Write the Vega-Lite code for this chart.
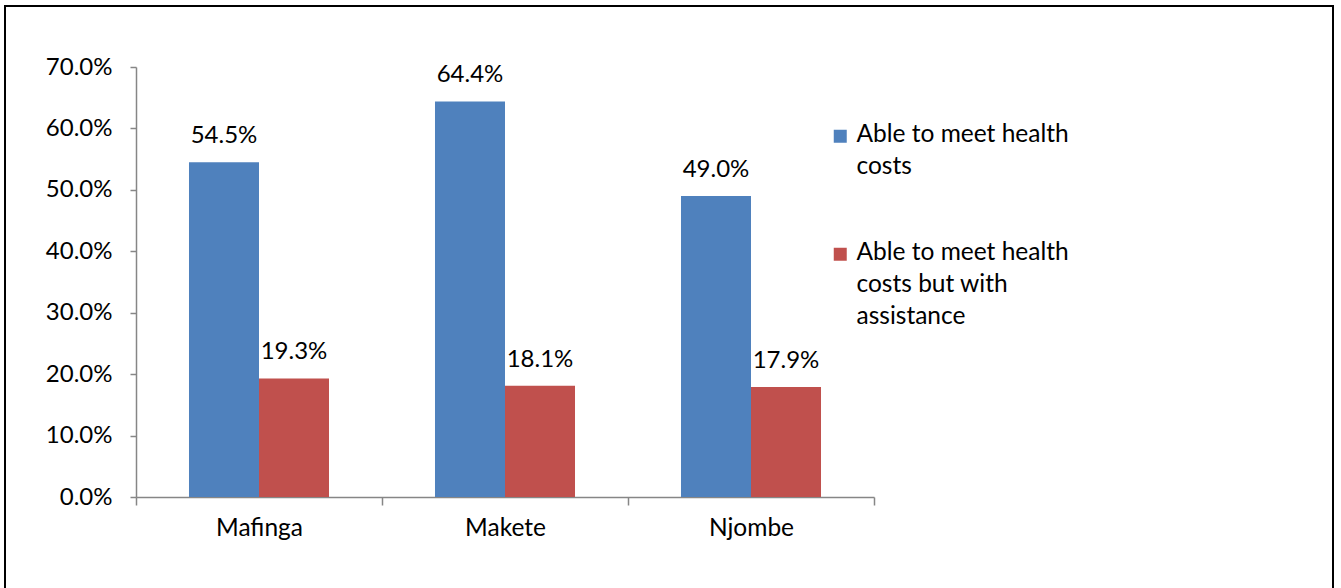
{
  "$schema": "https://vega.github.io/schema/vega-lite/v6.json",
  "width": 1328,
  "height": 584,
  "autosize": {"type": "none"},
  "padding": {"left": 5, "top": 6, "right": 8, "bottom": -2},
  "background": "white",
  "data": {
    "values": [
      {"district": "Mafinga", "series": "Able to meet health costs", "value": 0.545},
      {"district": "Mafinga", "series": "Able to meet health costs but with assistance", "value": 0.193},
      {"district": "Makete", "series": "Able to meet health costs", "value": 0.644},
      {"district": "Makete", "series": "Able to meet health costs but with assistance", "value": 0.181},
      {"district": "Njombe", "series": "Able to meet health costs", "value": 0.490},
      {"district": "Njombe", "series": "Able to meet health costs but with assistance", "value": 0.179}
    ]
  },
  "encoding": {
    "x": {
      "field": "district",
      "type": "nominal",
      "sort": ["Mafinga", "Makete", "Njombe"],
      "scale": {"range": [131, 869], "paddingInner": 0, "paddingOuter": 0},
      "axis": {
        "title": null,
        "offset": -93,
        "labelAngle": 0,
        "tickBand": "extent",
        "tickSize": 8,
        "labelPadding": 11,
        "labelFontSize": 24.5,
        "labelFont": "Lato",
        "labelColor": "black",
        "domainColor": "#868686",
        "tickColor": "#868686",
        "domainWidth": 1.5,
        "tickWidth": 1.5
      }
    },
    "xOffset": {
      "field": "series",
      "type": "nominal",
      "scale": {"paddingInner": 0, "paddingOuter": 0.757}
    },
    "y": {
      "field": "value",
      "type": "quantitative",
      "scale": {"domain": [0, 0.7], "range": [491, 61], "nice": false},
      "axis": {
        "title": null,
        "offset": -131,
        "format": ".1%",
        "values": [0, 0.1, 0.2, 0.3, 0.4, 0.5, 0.6, 0.7],
        "grid": false,
        "tickSize": 6,
        "labelPadding": 18,
        "labelFontSize": 24,
        "labelFont": "Lato",
        "labelColor": "black",
        "domainColor": "#868686",
        "tickColor": "#868686",
        "domainWidth": 1.5,
        "tickWidth": 1.5
      }
    }
  },
  "layer": [
    {
      "mark": {"type": "bar"},
      "encoding": {
        "color": {
          "field": "series",
          "type": "nominal",
          "scale": {
            "domain": ["Able to meet health costs", "Able to meet health costs but with assistance"],
            "range": ["#4F81BD", "#C0504D"]
          },
          "legend": {
            "title": null,
            "orient": "none",
            "legendX": 823,
            "legendY": 118,
            "padding": 0,
            "symbolType": "square",
            "symbolSize": 169,
            "symbolStrokeWidth": 0,
            "labelOffset": 4,
            "labelFont": "Lato",
            "labelFontSize": 24.5,
            "labelColor": "black",
            "labelBaseline": "top",
            "labelLimit": 400,
            "rowPadding": 61,
            "labelExpr": "datum.value == 'Able to meet health costs' ? ['Able to meet health', 'costs'] : ['Able to meet health', 'costs but with', 'assistance']",
            "encode": {
              "labels": {"update": {"lineHeight": {"value": 32}, "dy": {"value": -13}}}
            }
          }
        }
      }
    },
    {
      "mark": {"type": "text", "baseline": "alphabetic", "dy": -19, "font": "Lato", "fontSize": 24, "color": "black"},
      "encoding": {
        "text": {"field": "value", "type": "quantitative", "format": ".1%"}
      }
    }
  ],
  "config": {
    "view": {"stroke": "black", "strokeWidth": 2}
  }
}
